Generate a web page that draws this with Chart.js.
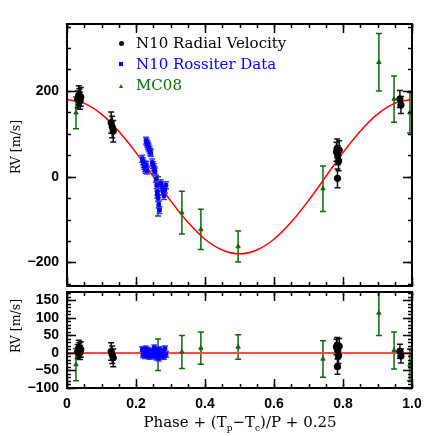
<!DOCTYPE html>
<html>
<head>
<meta charset="utf-8">
<script src="https://cdn.jsdelivr.net/npm/chart.js@4.4.0/dist/chart.umd.min.js"></script>
<style>
    body { margin: 0; background: #fff; width: 436px; height: 436px; position: relative; overflow: hidden; }
    canvas { position: absolute; left: 0; }
    #rvChart { top: 0; }
    #resChart { top: 286px; }
    .leg { position: absolute; left: 136px; font-family: 'DejaVu Serif', serif; font-size: 15px; line-height: 18px; white-space: nowrap; }
    .mark { position: absolute; }
    .ytitle { position: absolute; width: 100px; height: 16px; line-height: 16px; text-align: center; font-family: 'DejaVu Serif', serif; font-size: 12.5px; transform: rotate(-90deg); }
    #xtitle { position: absolute; left: 0; width: 480px; top: 413px; text-align: center; font-family: 'DejaVu Serif', serif; font-size: 15px; }
    #xtitle sub { font-size: 9px; }
</style>
</head>
<body>
<canvas id="rvChart" width="436" height="292"></canvas>
<canvas id="resChart" width="436" height="150"></canvas>

<div class="mark" style="left:119px;top:41px;width:5px;height:5px;border-radius:50%;background:#000"></div>
<div class="leg" style="top:34px;color:#000">N10 Radial Velocity</div>
<div class="mark" style="left:119px;top:62px;width:4px;height:4px;background:#0000ff"></div>
<div class="leg" style="top:55px;color:#0000ff">N10 Rossiter Data</div>
<div class="mark" style="left:119px;top:84px;width:0;height:0;border-left:2.5px solid transparent;border-right:2.5px solid transparent;border-bottom:4px solid #0b6b0b"></div>
<div class="leg" style="top:76px;color:#0b6b0b">MC08</div>
<div class="ytitle" style="left:-34px;top:139px">RV [m/s]</div>
<div class="ytitle" style="left:-34px;top:318px">RV [m/s]</div>
<div id="xtitle">Phase + (T<sub>p</sub>&minus;T<sub>c</sub>)/P + 0.25</div>

<script>
// model curve
const modelPhase = [0, 0.05, 0.1, 0.15, 0.2, 0.25, 0.3, 0.35, 0.4, 0.45, 0.5, 0.55, 0.6, 0.65, 0.7, 0.75, 0.8, 0.85, 0.9, 0.95, 1];
const modelRV = [180, 171, 146, 106, 56, 0, -56, -106, -146, -171, -180, -171, -146, -106, -56, 0, 56, 106, 146, 171, 180];

// N10 radial velocity
const blackPhase = [0.031, 0.034, 0.036, 0.038, 0.040, 0.128, 0.131, 0.134, 0.781, 0.783, 0.785, 0.787, 0.789, 0.784, 0.965, 0.968];
const blackRV = [180, 190, 185, 177, 186, 126, 116, 106, 58, 66, 50, 36, 62, -4, 181, 167];
const blackErr = [20, 22, 20, 20, 22, 25, 25, 25, 22, 22, 22, 22, 22, 22, 20, 20];
const blackRes = [4, 14, 9, 1, 10, 4, -5, -14, 17, 22, 6, -8, 19, -39, 5, -9];

// N10 Rossiter data
const bluePhase = [0.229, 0.231, 0.233, 0.235, 0.237, 0.239, 0.241, 0.243,
    0.218, 0.220, 0.222, 0.224, 0.226, 0.228, 0.230, 0.232,
    0.247, 0.249, 0.251, 0.253, 0.255,
    0.258, 0.260, 0.262, 0.264, 0.266, 0.268, 0.262,
    0.272, 0.275, 0.278, 0.281, 0.284, 0.287];
const blueRV = [84, 80, 76, 72, 68, 63, 58, 55,
    42, 36, 30, 25, 20, 16, 28, 14,
    33, 27, 22, 16, 12,
    -5, -20, -35, -50, -65, -78, -42,
    -15, -25, -35, -45, -30, -20];
const blueErr = 8;
const blueRes = [5, -3, 8, -6, 2, -10, 4, -2,
    10, -5, 3, 7, -8, 12, 0, -4,
    6, -9, 2, 15, -2,
    8, -12, 4, -6, -15, 10, -3,
    3, -8, 5, -10, 12, -4];

// MC08
const greenPhase = [0.026, 0.264, 0.333, 0.388, 0.496, 0.742, 0.904, 0.948, 0.994];
const greenRV = [149, -46, -84, -123, -163, -28, 267, 181, 149];
const greenErr = [37, 46, 50, 47, 36, 53, 67, 54, 47];
const greenRes = [-33, -5, 3, 14, 17, -17, 114, 7, -34];
const greenResErr = [46, 45, 47, 46, 35, 52, 64, 53, 45];

const BLACK = '#000000';
const BLUE = '#0000ff';
const GREEN = '#0b6b0b';

function pts(xs, ys) {
    return xs.map((x, i) => ({x: x, y: Array.isArray(ys) ? ys[i] : ys}));
}
function errs(xs, e) {
    return xs.map((x, i) => Array.isArray(e) ? e[i] : e);
}

// error bars, frame and inward ticks
const framePlugin = {
    id: 'frame',
    beforeDatasetsDraw(chart) {
        const ctx = chart.ctx, a = chart.chartArea;
        const xs = chart.scales.x, ys = chart.scales.y;
        ctx.save();
        ctx.beginPath();
        ctx.rect(a.left, a.top, a.right - a.left, a.bottom - a.top);
        ctx.clip();
        chart.data.datasets.forEach(ds => {
            if (!ds.errs) return;
            ctx.strokeStyle = ds.errColor;
            ctx.lineWidth = 1.5;
            ds.data.forEach((p, i) => {
                const px = xs.getPixelForValue(p.x);
                const y1 = ys.getPixelForValue(p.y - ds.errs[i]);
                const y2 = ys.getPixelForValue(p.y + ds.errs[i]);
                ctx.beginPath();
                ctx.moveTo(px, y1); ctx.lineTo(px, y2);
                ctx.moveTo(px - 3, y1); ctx.lineTo(px + 3, y1);
                ctx.moveTo(px - 3, y2); ctx.lineTo(px + 3, y2);
                ctx.stroke();
            });
        });
        ctx.restore();
    },
    afterDraw(chart, args, opts) {
        const ctx = chart.ctx, a = chart.chartArea;
        const xs = chart.scales.x, ys = chart.scales.y;
        ctx.save();
        ctx.strokeStyle = '#000';
        ctx.lineWidth = 1.5;
        const tick = (scale, step, len, horizontal) => {
            const start = Math.ceil(scale.min / step - 1e-9);
            const end = Math.floor(scale.max / step + 1e-9);
            for (let k = start; k <= end; k++) {
                const p = Math.round(scale.getPixelForValue(k * step)) + 0.5;
                ctx.beginPath();
                if (horizontal) {
                    ctx.moveTo(p, a.bottom); ctx.lineTo(p, a.bottom - len);
                    ctx.moveTo(p, a.top); ctx.lineTo(p, a.top + len);
                } else {
                    ctx.moveTo(a.left, p); ctx.lineTo(a.left + len, p);
                    ctx.moveTo(a.right, p); ctx.lineTo(a.right - len, p);
                }
                ctx.stroke();
            }
        };
        tick(xs, 0.05, 4, true);
        tick(xs, 0.2, 9, true);
        tick(ys, opts.yMinor, 4, false);
        tick(ys, opts.yMajor, 9, false);
        ctx.lineWidth = 2;
        ctx.strokeRect(a.left, a.top, a.right - a.left, a.bottom - a.top);
        ctx.restore();
    }
};

const tickFont = {family: 'Liberation Sans', size: 14, weight: 'bold'};
const minusLabel = v => (v < 0 ? '\u2212' + Math.abs(v) : String(v));
const noPad = s => { s.paddingTop = 0; s.paddingBottom = 0; s.paddingLeft = 0; s.paddingRight = 0; };

const rvCtx = document.getElementById('rvChart').getContext('2d');
new Chart(rvCtx, {
    type: 'scatter',
    data: {
        datasets: [
            {
                label: 'Model',
                type: 'line',
                data: pts(modelPhase, modelRV),
                borderColor: '#ff0000',
                borderWidth: 1.5,
                pointRadius: 0,
                cubicInterpolationMode: 'monotone',
                order: 4
            },
            {
                label: 'MC08',
                data: pts(greenPhase, greenRV),
                errs: errs(greenPhase, greenErr),
                errColor: GREEN,
                backgroundColor: GREEN,
                borderColor: GREEN,
                pointStyle: 'triangle',
                pointRadius: 2.5,
                order: 3
            },
            {
                label: 'N10 Rossiter Data',
                data: pts(bluePhase, blueRV),
                errs: errs(bluePhase, blueErr),
                errColor: '#3a3aff',
                backgroundColor: BLUE,
                borderColor: BLUE,
                pointStyle: 'rect',
                pointRadius: 2.5,
                order: 2
            },
            {
                label: 'N10 Radial Velocity',
                data: pts(blackPhase, blackRV),
                errs: errs(blackPhase, blackErr),
                errColor: '#111',
                backgroundColor: BLACK,
                borderColor: BLACK,
                pointRadius: 3.2,
                order: 1
            }
        ]
    },
    options: {
        responsive: false,
        animation: false,
        layout: {padding: {top: 24, right: 24, bottom: 6, left: 0}},
        plugins: {
            legend: {display: false},
            tooltip: {enabled: false},
            frame: {yMajor: 200, yMinor: 50}
        },
        scales: {
            x: {
                type: 'linear', min: 0, max: 1,
                grid: {display: false, drawTicks: false},
                border: {display: false},
                ticks: {display: false},
                afterFit: s => { s.height = 0; noPad(s); }
            },
            y: {
                min: -255, max: 356,
                grid: {display: false, drawTicks: false},
                border: {display: false},
                ticks: {font: tickFont, color: '#000', padding: 8, autoSkip: false, callback: minusLabel},
                afterBuildTicks: s => { s.ticks = [-200, 0, 200].map(v => ({value: v})); },
                afterFit: s => { s.width = 67; noPad(s); }
            }
        }
    },
    plugins: [framePlugin]
});

const resCtx = document.getElementById('resChart').getContext('2d');
new Chart(resCtx, {
    type: 'scatter',
    data: {
        datasets: [
            {
                label: 'Zero',
                type: 'line',
                data: pts([0, 1], 0),
                borderColor: '#ff4a4a',
                borderWidth: 2,
                pointRadius: 0,
                order: 4
            },
            {
                label: 'MC08',
                data: pts(greenPhase, greenRes),
                errs: errs(greenPhase, greenResErr),
                errColor: GREEN,
                backgroundColor: GREEN,
                borderColor: GREEN,
                pointStyle: 'triangle',
                pointRadius: 2.5,
                order: 3
            },
            {
                label: 'N10 Rossiter Data',
                data: pts(bluePhase, blueRes),
                errs: errs(bluePhase, blueErr),
                errColor: '#3a3aff',
                backgroundColor: BLUE,
                borderColor: BLUE,
                pointStyle: 'rect',
                pointRadius: 2.5,
                order: 2
            },
            {
                label: 'N10 Radial Velocity',
                data: pts(blackPhase, blackRes),
                errs: errs(blackPhase, blackErr),
                errColor: '#111',
                backgroundColor: BLACK,
                borderColor: BLACK,
                pointRadius: 3.2,
                order: 1
            }
        ]
    },
    options: {
        responsive: false,
        animation: false,
        layout: {padding: {top: 6, right: 24, bottom: 0, left: 0}},
        plugins: {
            legend: {display: false},
            tooltip: {enabled: false},
            frame: {yMajor: 50, yMinor: 10}
        },
        scales: {
            x: {
                type: 'linear', min: 0, max: 1,
                grid: {display: false, drawTicks: false},
                border: {display: false},
                ticks: {font: tickFont, color: '#000', padding: 8, stepSize: 0.2, maxRotation: 0, autoSkip: false},
                afterFit: s => { s.height = 48; noPad(s); }
            },
            y: {
                min: -100, max: 174,
                grid: {display: false, drawTicks: false},
                border: {display: false},
                ticks: {font: tickFont, color: '#000', padding: 8, autoSkip: false, callback: minusLabel},
                afterBuildTicks: s => { s.ticks = [-100, -50, 0, 50, 100, 150].map(v => ({value: v})); },
                afterFit: s => { s.width = 67; noPad(s); }
            }
        }
    },
    plugins: [framePlugin]
});
</script>
</body>
</html>
